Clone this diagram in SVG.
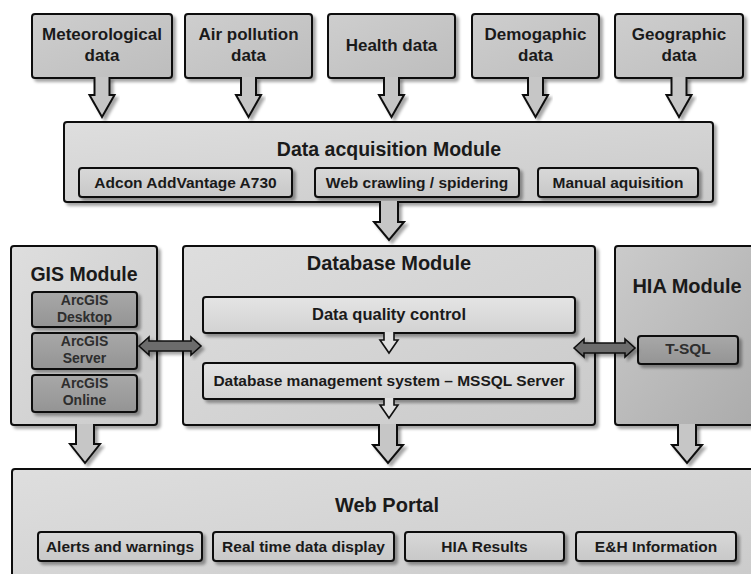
<svg xmlns="http://www.w3.org/2000/svg" width="751" height="574" viewBox="0 0 751 574">
  <defs>
    <filter id="shadow" x="-10%" y="-10%" width="130%" height="140%">
      <feDropShadow dx="3" dy="3" stdDeviation="1.8" flood-color="#000" flood-opacity="0.35"/>
    </filter>
    <linearGradient id="gSource" x1="0" y1="0" x2="1" y2="1">
      <stop offset="0" stop-color="#cecece"/>
      <stop offset="1" stop-color="#bdbdbd"/>
    </linearGradient>
    <linearGradient id="gModule" x1="0" y1="0" x2="1" y2="1">
      <stop offset="0" stop-color="#dedede"/>
      <stop offset="1" stop-color="#cacaca"/>
    </linearGradient>
    <linearGradient id="gHia" x1="0" y1="0" x2="1" y2="1">
      <stop offset="0" stop-color="#cbcbcb"/>
      <stop offset="1" stop-color="#aaaaaa"/>
    </linearGradient>
    <linearGradient id="gItem" x1="0" y1="0" x2="0" y2="1">
      <stop offset="0" stop-color="#d8d8d8"/>
      <stop offset="1" stop-color="#c8c8c8"/>
    </linearGradient>
    <linearGradient id="gStep" x1="0" y1="0" x2="0" y2="1">
      <stop offset="0" stop-color="#e4e4e4"/>
      <stop offset="1" stop-color="#d2d2d2"/>
    </linearGradient>
    <linearGradient id="gTool" x1="0" y1="0" x2="0" y2="1">
      <stop offset="0" stop-color="#a8a8a8"/>
      <stop offset="1" stop-color="#949494"/>
    </linearGradient>
  </defs>
  <style>
    .box { stroke: #111; stroke-width: 2; filter: url(#shadow); }
    .src { fill: url(#gSource); }
    .mod { fill: url(#gModule); }
    .hia { fill: url(#gHia); }
    .item { fill: url(#gItem); }
    .step { fill: url(#gStep); }
    .tool { fill: url(#gTool); }
    text { font-family: "Liberation Sans", Arial, sans-serif; font-weight: bold; fill: #1a1a1a; text-anchor: middle; }
    .t17 { font-size: 17px; }
    .t20 { font-size: 20px; }
    .t15 { font-size: 15.5px; }
    .t14 { font-size: 14px; fill: #2e2e2e; }
    .arrow { fill: #c6c6c6; stroke: #111; stroke-width: 2; stroke-linejoin: miter; filter: url(#shadow); }
    .small { fill: #e0e0e0; stroke: #111; stroke-width: 1.6; }
    .dbl { fill: #6c6c6c; stroke: #111; stroke-width: 1.6; filter: url(#shadow); }
  </style>

  <rect width="751" height="574" fill="#fff"/>

  <!-- data sources -->
  <g id="src-meteo">
    <rect class="box src" x="32" y="14" width="140" height="64" rx="3"/>
    <text class="t17" x="102" y="40">Meteorological</text>
    <text class="t17" x="102" y="61">data</text>
  </g>
  <g id="src-air">
    <rect class="box src" x="185" y="14" width="127" height="64" rx="3"/>
    <text class="t17" x="248.5" y="40">Air pollution</text>
    <text class="t17" x="248.5" y="61">data</text>
  </g>
  <g id="src-health">
    <rect class="box src" x="328" y="14" width="127" height="64" rx="3"/>
    <text class="t17" x="391.5" y="51">Health data</text>
  </g>
  <g id="src-demo">
    <rect class="box src" x="472" y="14" width="127" height="64" rx="3"/>
    <text class="t17" x="535.5" y="40">Demogaphic</text>
    <text class="t17" x="535.5" y="61">data</text>
  </g>
  <g id="src-geo">
    <rect class="box src" x="615" y="14" width="128" height="64" rx="3"/>
    <text class="t17" x="679" y="40">Geographic</text>
    <text class="t17" x="679" y="61">data</text>
  </g>

  <!-- data acquisition module -->
  <g id="acquisition">
    <rect class="box mod" x="64" y="122" width="649" height="80" rx="3"/>
    <text class="t20" x="389" y="156" style="font-size:19.5px">Data acquisition Module</text>
    <rect class="box item" x="79" y="168" width="213" height="29" rx="3"/>
    <text class="t15" x="185.5" y="188">Adcon AddVantage A730</text>
    <rect class="box item" x="315" y="168" width="204" height="29" rx="3"/>
    <text class="t15" x="417" y="188">Web crawling / spidering</text>
    <rect class="box item" x="538" y="168" width="160" height="29" rx="3"/>
    <text class="t15" x="618" y="188">Manual aquisition</text>
  </g>

  <!-- GIS module -->
  <g id="gis">
    <rect class="box mod" x="11" y="246" width="146" height="179" rx="3"/>
    <text class="t20" x="84" y="281" style="font-size:19.5px">GIS Module</text>
    <rect class="box tool" x="32" y="292" width="105" height="35" rx="3"/>
    <text class="t14" x="84.5" y="305">ArcGIS</text>
    <text class="t14" x="84.5" y="322">Desktop</text>
    <rect class="box tool" x="32" y="333" width="105" height="36" rx="3"/>
    <text class="t14" x="84.5" y="346">ArcGIS</text>
    <text class="t14" x="84.5" y="363">Server</text>
    <rect class="box tool" x="32" y="375" width="105" height="37" rx="3"/>
    <text class="t14" x="84.5" y="388">ArcGIS</text>
    <text class="t14" x="84.5" y="405">Online</text>
  </g>

  <!-- database module -->
  <g id="database">
    <rect class="box mod" x="183" y="246" width="412" height="179" rx="3"/>
    <text class="t20" x="389" y="270">Database Module</text>
    <rect class="box step" x="203" y="297" width="372" height="36" rx="3"/>
    <text class="t17" x="389" y="320" style="font-size:16.5px">Data quality control</text>
    <path class="small" d="M384,332 L384,340 L380,340 L389,353 L398,340 L394,340 L394,332"/>
    <rect class="box step" x="203" y="363" width="372" height="36" rx="3"/>
    <text class="t15" x="389" y="386">Database management system – MSSQL Server</text>
    <path class="small" d="M384,398 L384,405 L380,405 L389,418 L398,405 L394,405 L394,398"/>
  </g>

  <!-- HIA module -->
  <g id="hia">
    <rect class="box hia" x="615" y="246" width="150" height="179" rx="3"/>
    <text class="t20" x="687" y="293">HIA Module</text>
    <rect class="box tool" x="638" y="336" width="100" height="28" rx="3"/>
    <text class="t15" x="688" y="354" style="fill:#2e2e2e">T-SQL</text>
  </g>

  <!-- web portal -->
  <g id="portal">
    <rect class="box mod" x="12" y="469" width="760" height="120" rx="3"/>
    <text class="t20" x="387" y="512">Web Portal</text>
    <rect class="box item" x="38" y="532" width="164" height="29" rx="3"/>
    <text class="t15" x="120" y="552">Alerts and warnings</text>
    <rect class="box item" x="213" y="532" width="181" height="29" rx="3"/>
    <text class="t15" x="303.5" y="552">Real time data display</text>
    <rect class="box item" x="405" y="532" width="159" height="29" rx="3"/>
    <text class="t15" x="484.5" y="552">HIA Results</text>
    <rect class="box item" x="576" y="532" width="160" height="29" rx="3"/>
    <text class="t15" x="656" y="552">E&amp;H Information</text>
  </g>

  <!-- connectors -->
  <g id="connectors">
    <!-- sources to acquisition -->
    <path class="arrow" d="M94.5,77 L94.5,95 L89.5,95 L102,117 L114.5,95 L109.5,95 L109.5,77"/>
    <path class="arrow" d="M241,77 L241,95 L236,95 L248.5,117 L261,95 L256,95 L256,77"/>
    <path class="arrow" d="M384,77 L384,95 L379,95 L391.5,117 L404,95 L399,95 L399,77"/>
    <path class="arrow" d="M528,77 L528,95 L523,95 L535.5,117 L548,95 L543,95 L543,77"/>
    <path class="arrow" d="M671.5,77 L671.5,95 L666.5,95 L679,117 L691.5,95 L686.5,95 L686.5,77"/>
    <!-- acquisition to database -->
    <path class="arrow" d="M380,201 L380,222 L374,222 L389,240 L404,222 L398,222 L398,201"/>
    <!-- modules to web portal -->
    <path class="arrow" d="M76,424 L76,444 L70,444 L85,463 L100,444 L94,444 L94,424"/>
    <path class="arrow" d="M379,424 L379,445 L373,445 L388,463 L403,445 L397,445 L397,424"/>
    <path class="arrow" d="M678,424 L678,445 L672,445 L687,463 L702,445 L696,445 L696,424"/>
    <!-- two-way links -->
    <path class="dbl" d="M139,346 L149,337 L149,341 L191,341 L191,337 L201,346 L191,355 L191,351 L149,351 L149,355 Z"/>
    <path class="dbl" d="M574,348 L584,339 L584,343 L625,343 L625,339 L635,348 L625,357 L625,353 L584,353 L584,357 Z"/>
  </g>
</svg>
